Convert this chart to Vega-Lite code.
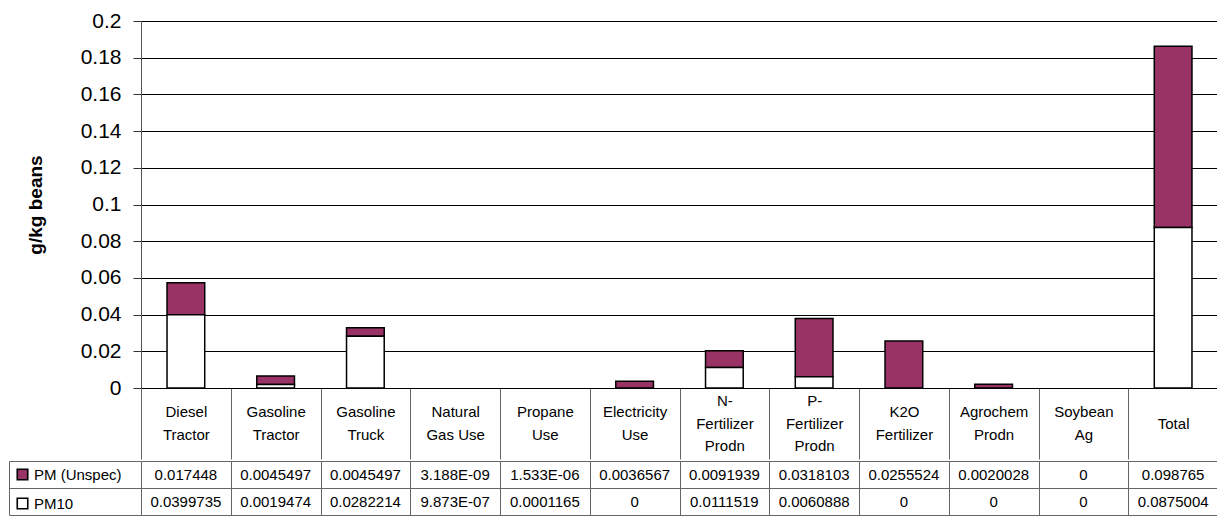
{
  "$schema": "https://vega.github.io/schema/vega-lite/v6.json",
  "padding": {"left": 8, "top": 10, "right": 0, "bottom": 0},
  "background": "white",
  "spacing": 0,
  "config": {
    "font": "Liberation Sans",
    "view": {"stroke": null},
    "axis": {"labelColor": "black", "titleColor": "black"}
  },
  "data": {
    "values": [
      {"category": "Diesel Tractor", "series": "PM (Unspec)", "value": 0.017448, "shown": "0.017448"},
      {"category": "Diesel Tractor", "series": "PM10", "value": 0.0399735, "shown": "0.0399735"},
      {"category": "Gasoline Tractor", "series": "PM (Unspec)", "value": 0.0045497, "shown": "0.0045497"},
      {"category": "Gasoline Tractor", "series": "PM10", "value": 0.0019474, "shown": "0.0019474"},
      {"category": "Gasoline Truck", "series": "PM (Unspec)", "value": 0.0045497, "shown": "0.0045497"},
      {"category": "Gasoline Truck", "series": "PM10", "value": 0.0282214, "shown": "0.0282214"},
      {"category": "Natural Gas Use", "series": "PM (Unspec)", "value": 3.188e-9, "shown": "3.188E-09"},
      {"category": "Natural Gas Use", "series": "PM10", "value": 9.873e-7, "shown": "9.873E-07"},
      {"category": "Propane Use", "series": "PM (Unspec)", "value": 1.533e-6, "shown": "1.533E-06"},
      {"category": "Propane Use", "series": "PM10", "value": 0.0001165, "shown": "0.0001165"},
      {"category": "Electricity Use", "series": "PM (Unspec)", "value": 0.0036567, "shown": "0.0036567"},
      {"category": "Electricity Use", "series": "PM10", "value": 0, "shown": "0"},
      {"category": "N-Fertilizer Prodn", "series": "PM (Unspec)", "value": 0.0091939, "shown": "0.0091939"},
      {"category": "N-Fertilizer Prodn", "series": "PM10", "value": 0.0111519, "shown": "0.0111519"},
      {"category": "P-Fertilizer Prodn", "series": "PM (Unspec)", "value": 0.0318103, "shown": "0.0318103"},
      {"category": "P-Fertilizer Prodn", "series": "PM10", "value": 0.0060888, "shown": "0.0060888"},
      {"category": "K2O Fertilizer", "series": "PM (Unspec)", "value": 0.0255524, "shown": "0.0255524"},
      {"category": "K2O Fertilizer", "series": "PM10", "value": 0, "shown": "0"},
      {"category": "Agrochem Prodn", "series": "PM (Unspec)", "value": 0.0020028, "shown": "0.0020028"},
      {"category": "Agrochem Prodn", "series": "PM10", "value": 0, "shown": "0"},
      {"category": "Soybean Ag", "series": "PM (Unspec)", "value": 0, "shown": "0"},
      {"category": "Soybean Ag", "series": "PM10", "value": 0, "shown": "0"},
      {"category": "Total", "series": "PM (Unspec)", "value": 0.098765, "shown": "0.098765"},
      {"category": "Total", "series": "PM10", "value": 0.0875004, "shown": "0.0875004"}
    ]
  },
  "vconcat": [
    {
      "width": 1077,
      "height": 367,
      "mark": {"type": "bar", "width": {"band": 0.42}, "stroke": "black", "strokeWidth": 1.5},
      "encoding": {
        "x": {
          "field": "category", "type": "nominal", "sort": null,
          "scale": {"paddingInner": 0, "paddingOuter": 0},
          "axis": {
            "title": null, "tickBand": "extent", "tickSize": 71, "tickColor": "#666",
            "domainColor": "black", "labelAngle": 0, "labelFontSize": 15,
            "labelBaseline": "middle", "labelAlign": "center", "labelPadding": -58.5,
            "labelLineHeight": 11.25, "labelLimit": 0,
            "labelExpr": "datum.label == 'Natural Gas Use' ? ['\u200b', 'Natural', '\u200b', 'Gas Use'] : datum.label == 'N-Fertilizer Prodn' ? ['N-', '\u200b', 'Fertilizer', '\u200b', 'Prodn'] : datum.label == 'P-Fertilizer Prodn' ? ['P-', '\u200b', 'Fertilizer', '\u200b', 'Prodn'] : datum.label == 'Total' ? ['\u200b', '\u200b', 'Total'] : ['\u200b', split(datum.label, ' ')[0], '\u200b', split(datum.label, ' ')[1]]"
          }
        },
        "y": {
          "field": "value", "type": "quantitative",
          "scale": {"domain": [0, 0.2]},
          "axis": {
            "values": [0, 0.02, 0.04, 0.06, 0.08, 0.1, 0.12, 0.14, 0.16, 0.18, 0.2],
            "format": "~g", "title": "g/kg beans", "titleFontSize": 19,
            "titleFontWeight": "bold", "titlePadding": 35, "labelFontSize": 21,
            "labelPadding": 12, "tickSize": 8, "tickColor": "#333", "domainColor": "#555",
            "grid": true, "gridColor": "black", "gridWidth": 1
          }
        },
        "color": {
          "field": "series", "type": "nominal",
          "scale": {"domain": ["PM (Unspec)", "PM10"], "range": ["#993366", "#ffffff"]},
          "legend": null
        },
        "strokeOpacity": {"condition": {"test": "datum.value < 0.0005", "value": 0}, "value": 1},
        "order": {"field": "series", "sort": "descending"}
      }
    },
    {
      "width": 1077,
      "height": 54,
      "encoding": {
        "x": {
          "field": "category", "type": "nominal", "sort": null,
          "scale": {"paddingInner": 0, "paddingOuter": 0},
          "axis": {
            "title": null, "labels": false, "ticks": false, "domain": false,
            "grid": true, "tickBand": "extent", "gridColor": "#666", "gridWidth": 1
          }
        },
        "y": {
          "field": "series", "type": "nominal",
          "scale": {"domain": ["PM (Unspec)", "PM10"], "paddingInner": 0, "paddingOuter": 0},
          "axis": {
            "title": null, "labels": false, "domain": true, "domainColor": "#666",
            "offset": 132, "ticks": true, "tickSize": -132, "tickColor": "#666",
            "tickBand": "extent", "grid": true, "gridColor": "#666"
          }
        }
      },
      "layer": [
        {
          "mark": {"type": "rect", "opacity": 0},
          "encoding": {
            "color": {
              "field": "series", "type": "nominal",
              "scale": {"domain": ["PM (Unspec)", "PM10"], "range": ["#993366", "#ffffff"]},
              "legend": {
                "title": null, "orient": "none", "legendX": -126, "legendY": 6,
                "symbolType": "square", "symbolSize": 110, "symbolStrokeColor": "black",
                "symbolStrokeWidth": 1.6, "labelFontSize": 15, "labelColor": "black",
                "labelOffset": 4, "rowPadding": 12, "padding": 0,
                "labelLimit": 0,
                "encode": {"symbols": {"update": {"opacity": {"value": 1}, "stroke": {"value": "black"}}}}
              }
            }
          }
        },
        {
          "mark": {"type": "text", "fontSize": 15, "color": "black", "align": "center", "baseline": "middle"},
          "encoding": {"text": {"field": "shown"}}
        }
      ]
    }
  ],
  "resolve": {"scale": {"color": "independent"}}
}
